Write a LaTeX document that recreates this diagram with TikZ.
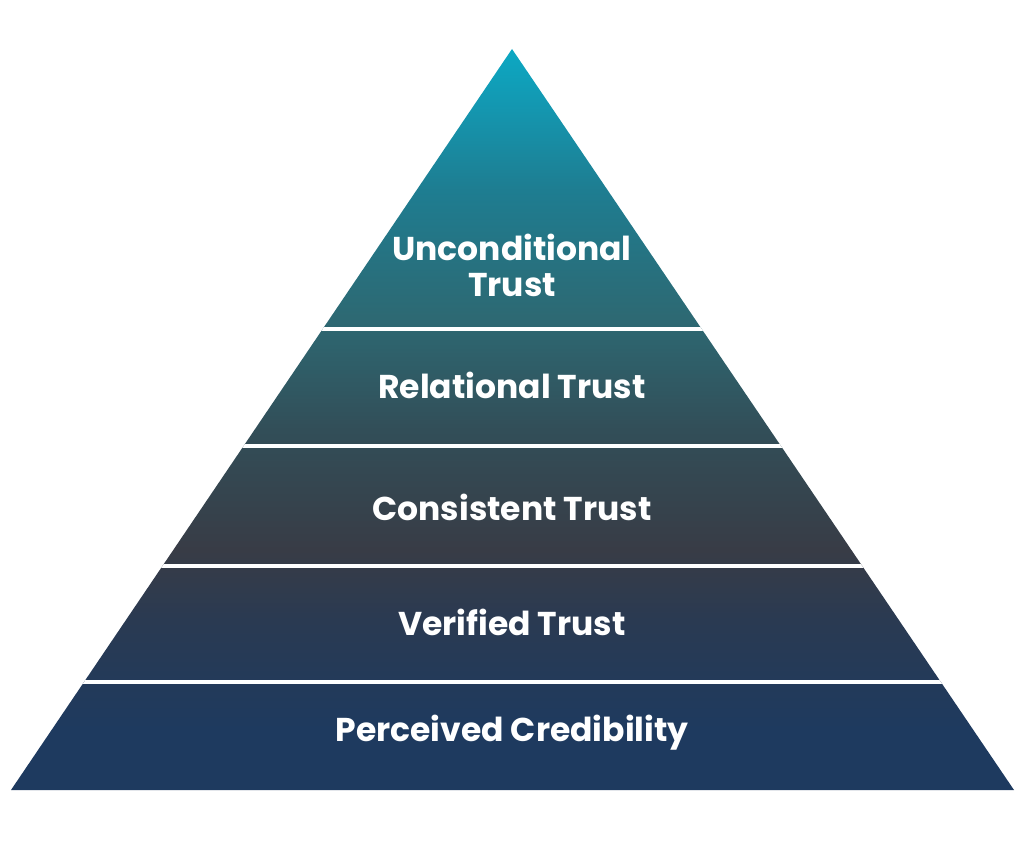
\documentclass[tikz,border=0pt]{standalone}
\usepackage{fontspec}
\setmainfont{Poppins}
\usetikzlibrary{calc}
\definecolor{cA}{RGB}{12,168,195}
\definecolor{cB}{RGB}{20,150,175}
\definecolor{cC}{RGB}{30,125,145}
\definecolor{cD}{RGB}{45,105,115}
\definecolor{cE}{RGB}{50,78,88}
\definecolor{cF}{RGB}{56,60,70}
\definecolor{cG}{RGB}{42,58,82}
\definecolor{cH}{RGB}{30,58,95}
% path bounding box maps to 25bp (bottom, y=790) .. 75bp (apex, y=49)
\pgfdeclareverticalshading{pyr}{100bp}{%
  color(0bp)=(cH);
  color(25bp)=(cH);
  color(29.05bp)=(cH);
  color(36.47bp)=(cG);
  color(41.19bp)=(cF);
  color(49.29bp)=(cE);
  color(56.92bp)=(cD);
  color(65.49bp)=(cC);
  color(70.89bp)=(cB);
  color(75bp)=(cA);
  color(100bp)=(cA)}
\tikzset{
  label/.style={text=white, font=\bfseries\fontsize{33}{36}\selectfont, align=center, inner sep=0pt},
  sep/.style={draw=white, line width=4pt}
}
\begin{document}
\begin{tikzpicture}[x=1pt,y=-1pt]
\useasboundingbox (0,0) rectangle (1024,840);
\coordinate (apex) at (512,49);
\coordinate (bl) at (11,790);
\coordinate (br) at (1014,790);
\shade[shading=pyr] (apex) -- (bl) -- (br) -- cycle;
\begin{scope}
  \clip (apex) -- (bl) -- (br) -- cycle;
  \foreach \yy in {329,446,566,682} {
    \draw[sep] (0,\yy) -- (1024,\yy);
  }
\end{scope}
\node[label] (t1) at (512,265) {Unconditional\\Trust};
\node[label] (t2) at (512,385) {Relational Trust};
\node[label] (t3) at (512,507) {Consistent Trust};
\node[label] (t4) at (512,622) {Verified Trust};
\node[label] (t5) at (512,733) {Perceived Credibility};
\end{tikzpicture}
\end{document}
